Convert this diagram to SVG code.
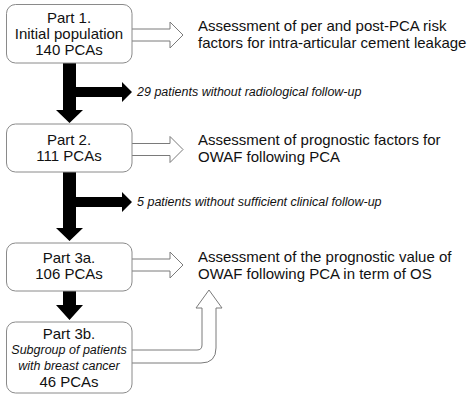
<svg xmlns="http://www.w3.org/2000/svg" width="467" height="395" viewBox="0 0 467 395">
<style>
.box{fill:#fff;stroke:#8a8a8a;stroke-width:1}
.t{font-family:"Liberation Sans",Arial,sans-serif;font-size:15px;fill:#111}
.c{text-anchor:middle}
.i{font-family:"Liberation Sans",Arial,sans-serif;font-size:12.5px;font-style:italic;fill:#111}
.ho{fill:#fff;stroke:#7a7a7a;stroke-width:1;stroke-linejoin:miter}
.bk{fill:#000;stroke:none}
</style>
<rect width="467" height="395" fill="#fff"/>
<g id="connectors">
<path class="ho" d="M132,29 H170 V22 L183,35 L170,48 V41 H132"/>
<path class="ho" d="M132,143.5 H170 V136.5 L183,149.5 L170,162.5 V155.5 H132"/>
<path class="ho" d="M132,259 H170 V252 L183,265 L170,278 V271 H132"/>
<path class="ho" d="M132,350 H197 Q202,350 202,345 V308 H196 L209,290 L222,308 H216 V348 Q216,363 201,363 H132"/>
<path class="bk" d="M63,63 H76 V87 H122 V82 L132,92 L122,102 V97 H76 V110 H83 L69.5,123 L56,110 H63 Z"/>
<path class="bk" d="M63,172 H76 V197 H122 V192 L132,202 L122,212 V207 H76 V228 H83 L69.5,241 L56,228 H63 Z"/>
<path class="bk" d="M63,291 H76 V305 H83 L69.5,320 L56,305 H63 Z"/>
<text class="i" x="137" y="95.5">29 patients without radiological follow-up</text>
<text class="i" x="137" y="205.5">5 patients without sufficient clinical follow-up</text>
</g>
<g id="part1">
<rect class="box" x="6.5" y="4.5" width="125.5" height="58.5" rx="9"/>
<text class="t c" x="69" y="23">Part 1.</text>
<text class="t c" x="69" y="39">Initial population</text>
<text class="t c" x="69" y="55">140 PCAs</text>
</g>
<g id="part2">
<rect class="box" x="6.5" y="124" width="125.5" height="48" rx="9"/>
<text class="t c" x="69" y="145">Part 2.</text>
<text class="t c" x="69" y="161">111 PCAs</text>
</g>
<g id="part3a">
<rect class="box" x="6.5" y="243" width="125.5" height="48" rx="9"/>
<text class="t c" x="69" y="263">Part 3a.</text>
<text class="t c" x="69" y="279">106 PCAs</text>
</g>
<g id="part3b">
<rect class="box" x="6.5" y="322" width="125.5" height="71" rx="9"/>
<text class="t c" x="69" y="339">Part 3b.</text>
<text class="i c" x="69" y="354">Subgroup of patients</text>
<text class="i c" x="69" y="370">with breast cancer</text>
<text class="t c" x="69" y="387">46 PCAs</text>
</g>
<g id="out1">
<text class="t" x="198" y="31">Assessment of per and post-PCA risk</text>
<text class="t" x="198" y="48">factors for intra-articular cement leakage</text>
</g>
<g id="out2">
<text class="t" x="198" y="145">Assessment of prognostic factors for</text>
<text class="t" x="198" y="162">OWAF following PCA</text>
</g>
<g id="out3">
<text class="t" x="198" y="262">Assessment of the prognostic value of</text>
<text class="t" x="198" y="279">OWAF following PCA in term of OS</text>
</g>
</svg>
